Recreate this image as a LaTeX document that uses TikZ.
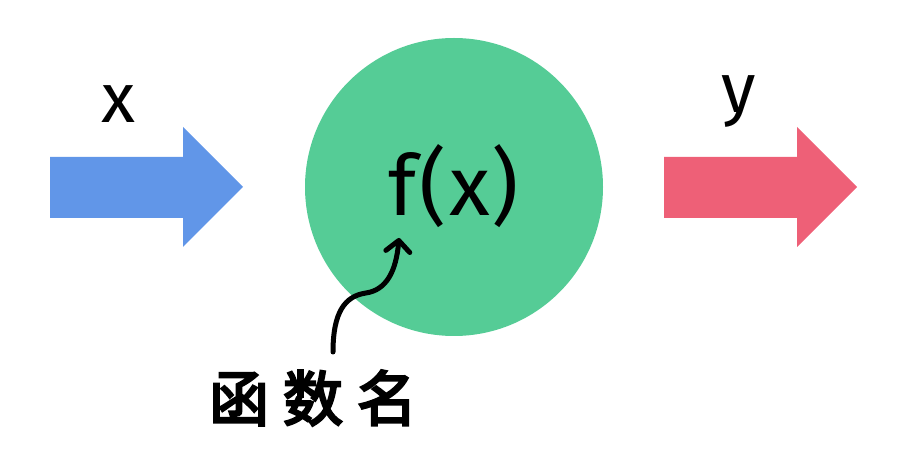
\documentclass[tikz,border=0pt]{standalone}
\usepackage{fontspec}
\setmainfont{Fira Sans}
\newfontfamily\cjk[AutoFakeBold=4]{Noto Sans CJK SC}
\usetikzlibrary{arrows.meta,positioning,calc}
\definecolor{inblue}{HTML}{6196E8}
\definecolor{outred}{HTML}{EE6077}
\definecolor{funcgreen}{HTML}{55CC96}

\tikzset{
  blockarrow/.style={fill=#1,draw=none},
  bigtext/.style={font=\fontsize{#1}{#1}\selectfont,inner sep=0pt},
  pointer/.style={line width=5pt,line cap=round,-{Straight Barb[length=11pt,width=24pt,round]}}
}

\begin{document}
\begin{tikzpicture}[x=1pt,y=-1pt]
  \useasboundingbox (0,0) rectangle (906,454);

  % Function circle
  \node[circle,fill=funcgreen,minimum size=298pt,inner sep=0pt] (func) at (454,187) {};
  \node[bigtext=84,anchor=base] (fx) at (454,216) {f\hspace{3pt}(\hspace{2pt}x\hspace{2pt})};

  % Input arrow
  \fill[blockarrow=inblue] (50,157) -- (183,157) -- (183,127) -- (243,187)
    -- (183,247) -- (183,218) -- (50,218) -- cycle;
  \node[bigtext=70,anchor=base] (xin) at (118,123) {x};

  % Output arrow
  \fill[blockarrow=outred] (664,157) -- (797,157) -- (797,127) -- (857,187)
    -- (797,247) -- (797,218) -- (664,218) -- cycle;
  \node[bigtext=70,anchor=base] (yout) at (739,113) {y};

  % Function name
  \node[font=\fontsize{60}{60}\cjk\bfseries,inner sep=0pt] (fname) at (313,398)
    {函\hspace{14pt}数\hspace{14pt}名};
  \coordinate (tail) at (333,352);
  \coordinate (head) at (399,238);
  \draw[pointer] (tail) .. controls (333,312) and (345,296) .. (366,293)
    .. controls (386,290) and (396,272) .. (head);
\end{tikzpicture}
\end{document}
